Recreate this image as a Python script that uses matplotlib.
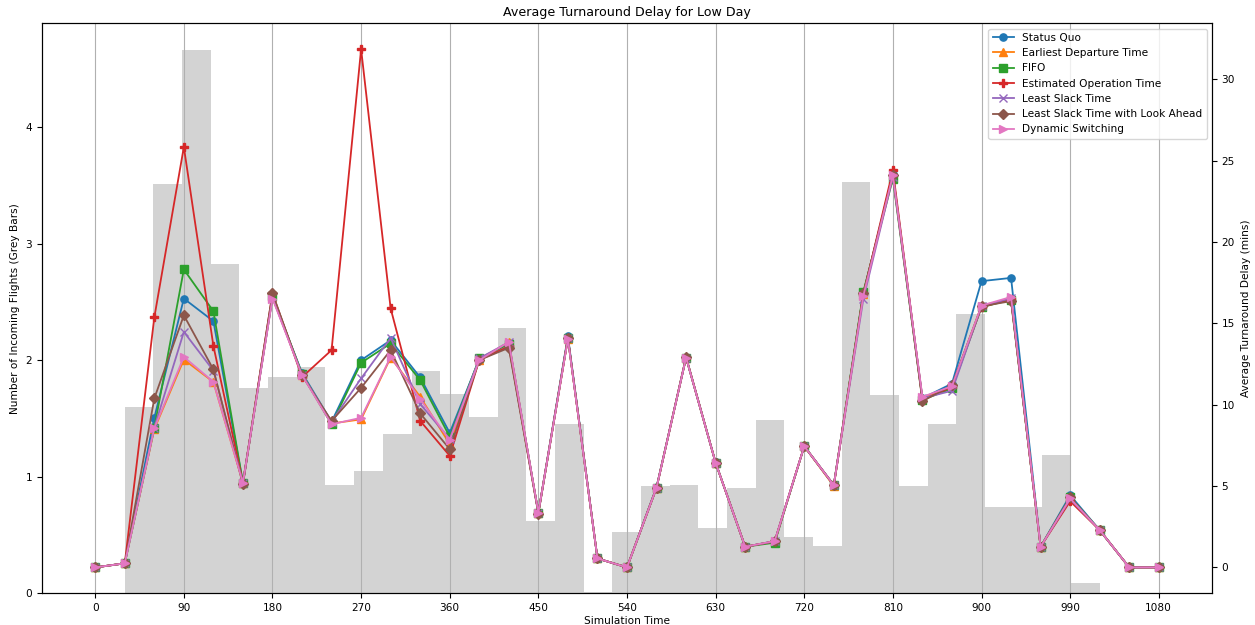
import numpy as np
import matplotlib
matplotlib.use("Agg")
import matplotlib.pyplot as plt

# simulation time points (minutes)
times = np.arange(0, 1081, 30)

# incoming flights histogram (grey bars)
bin_edges = np.linspace(30, 1020, 35)
incoming = [1.60, 3.51, 4.66, 2.83, 1.76, 1.86, 1.94, 0.93, 1.05, 1.37,
            1.91, 1.71, 1.51, 2.28, 0.62, 1.45, 0.01, 0.53, 0.92, 0.93,
            0.56, 0.90, 1.49, 0.48, 0.41, 3.53, 1.70, 0.92, 1.45, 2.40,
            0.74, 0.74, 1.19, 0.09]

status_quo = [0, 0.25, 9.2, 16.53, 15.14, 5.2, 16.6, 11.96, 8.95, 12.74, 13.97, 11.68, 8.27,
              12.8, 13.75, 3.36, 14.22, 0.55, 0.0, 4.95, 12.9, 6.45, 1.27, 1.62, 7.45, 5.06,
              16.85, 24.2, 10.4, 11.3, 17.6, 17.8, 1.27, 4.44, 2.29, 0, 0]
earliest_dep = [0, 0.25, 8.5, 12.78, 11.4, 5.2, 16.6, 11.85, 8.85, 9.1, 12.9, 10.49, 7.58,
                12.75, 13.85, 3.36, 14.05, 0.55, 0, 4.9, 12.9, 6.43, 1.27, 1.6, 7.45, 5.0,
                16.8, 24.1, 10.4, 11.1, 16.1, 16.5, 1.27, 4.2, 2.29, 0, 0]
fifo = [0, 0.25, 8.58, 18.32, 15.75, 5.2, 16.7, 11.9, 8.79, 12.58, 13.77, 11.51, 8.03,
        12.85, 13.75, 3.36, 14.1, 0.55, 0, 4.9, 12.9, 6.43, 1.27, 1.52, 7.45, 5.06,
        16.95, 23.9, 10.3, 11.0, 16.0, 16.45, 1.27, 4.3, 2.29, 0, 0]
est_op_time = [0, 0.25, 15.37, 25.85, 13.62, 5.2, 16.85, 11.7, 13.36, 31.86, 15.92, 9.01, 6.86,
               12.75, 13.6, 3.36, 14.1, 0.55, 0, 4.9, 12.9, 6.43, 1.27, 1.6, 7.45, 5.06,
               16.8, 24.42, 10.3, 11.1, 16.0, 16.5, 1.27, 4.07, 2.29, 0, 0]
least_slack = [0, 0.25, 8.6, 14.48, 12.1, 5.2, 16.6, 11.85, 8.95, 11.62, 14.11, 10.04, 7.9,
               12.85, 13.85, 3.36, 14.1, 0.55, 0, 4.9, 12.9, 6.43, 1.27, 1.6, 7.45, 5.06,
               16.5, 24.0, 10.4, 10.86, 16.05, 16.55, 1.27, 4.2, 2.29, 0, 0]
least_slack_la = [0, 0.25, 10.39, 15.5, 12.17, 5.1, 16.85, 11.8, 9.0, 11.04, 13.36, 9.47, 7.27,
                  12.75, 13.5, 3.3, 14.1, 0.55, 0, 4.9, 12.95, 6.43, 1.27, 1.6, 7.45, 5.06,
                  16.85, 24.1, 10.22, 11.2, 16.06, 16.37, 1.27, 4.3, 2.29, 0, 0]
dynamic = [0, 0.25, 8.56, 12.94, 11.41, 5.2, 16.53, 11.82, 8.8, 9.2, 12.94, 10.34, 7.82,
           12.74, 13.87, 3.36, 14.03, 0.55, 0, 4.9, 12.9, 6.43, 1.27, 1.62, 7.45, 5.06,
           16.7, 24.11, 10.49, 11.14, 16.1, 16.63, 1.27, 4.24, 2.29, 0, 0]

series = [
    ("Status Quo", status_quo, "o"),
    ("Earliest Departure Time", earliest_dep, "^"),
    ("FIFO", fifo, "s"),
    ("Estimated Operation Time", est_op_time, "P"),
    ("Least Slack Time", least_slack, "x"),
    ("Least Slack Time with Look Ahead", least_slack_la, "D"),
    ("Dynamic Switching", dynamic, ">"),
]

plt.rcParams["font.size"] = 7.6

fig, ax = plt.subplots(figsize=(12.55, 6.25), dpi=100)
widths = np.diff(bin_edges)
ax.bar(bin_edges[:-1], incoming, width=widths, align="edge", color="lightgrey")
ax.set_ylabel("Number of Incoming Flights (Grey Bars)")
ax.set_xlabel("Simulation Time", labelpad=2)
ax.set_xticks(np.arange(0, 1081, 90))
ax.grid(axis="x")

ax2 = ax.twinx()
for name, vals, m in series:
    ax2.plot(times, vals, marker=m, label=name, markersize=5.2, linewidth=1.3)
ax2.set_ylabel("Average Turnaround Delay (mins)")
ax2.legend(loc="upper right")
ax.set_title("Average Turnaround Delay for Low Day", pad=5)

fig.subplots_adjust(left=0.0335, right=0.9657, bottom=0.0507, top=0.9627)
fig.savefig("out.png")
